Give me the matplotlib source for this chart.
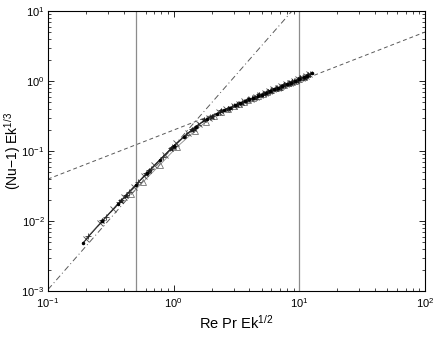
import matplotlib
matplotlib.use("Agg")
import matplotlib.pyplot as plt
import numpy as np

plt.rcParams['font.family'] = ['Liberation Sans', 'DejaVu Sans']
plt.rcParams['mathtext.fontset'] = 'custom'
plt.rcParams['mathtext.rm'] = 'Liberation Sans'
plt.rcParams['mathtext.it'] = 'Liberation Sans:italic'

# ---- data ----
s1_x = [0.19, 0.27, 0.36, 0.50, 0.61, 0.78, 1.0, 1.2, 1.5, 1.85, 2.2, 2.5, 2.8, 3.1, 3.4, 3.7, 4.0, 4.3, 4.7, 5.0, 5.4, 5.8, 6.3, 6.8, 7.3, 8.0, 8.6, 9.2, 10.0, 10.8, 11.6, 12.5]
s1_y = [0.0049, 0.0099, 0.0174, 0.0328, 0.0480, 0.0758, 0.118, 0.160, 0.224, 0.291, 0.344, 0.381, 0.418, 0.452, 0.485, 0.516, 0.547, 0.578, 0.615, 0.642, 0.680, 0.716, 0.760, 0.805, 0.846, 0.905, 0.955, 1.005, 1.07, 1.13, 1.20, 1.29]

s2_x = [0.20, 0.26, 0.33, 0.40, 0.48, 0.58, 0.70, 0.85, 1.05, 1.3, 1.6, 1.9, 2.3, 2.6, 3.0, 3.3, 3.6, 4.1, 4.5, 4.9, 5.3, 5.7, 6.2, 6.7, 7.2, 7.8, 8.4, 9.0, 9.7, 10.5, 11.3, 12.0]
s2_y = [0.0056, 0.0094, 0.0150, 0.0218, 0.0310, 0.0442, 0.0630, 0.0890, 0.130, 0.182, 0.245, 0.300, 0.362, 0.398, 0.448, 0.478, 0.512, 0.563, 0.602, 0.640, 0.680, 0.714, 0.762, 0.802, 0.850, 0.898, 0.950, 1.00, 1.055, 1.12, 1.19, 1.25]

s3_x = [0.27, 0.38, 0.42, 0.60, 0.64, 0.95, 1.0, 1.4, 1.45, 1.75, 2.0, 2.4, 2.7, 3.2, 3.5, 3.9, 4.4, 4.8, 5.2, 5.6, 6.0, 6.5, 7.0, 7.6, 8.2, 8.8, 9.5, 10.2, 11.0, 11.8]
s3_y = [0.0100, 0.0195, 0.0230, 0.0468, 0.0512, 0.108, 0.115, 0.203, 0.207, 0.274, 0.308, 0.370, 0.396, 0.463, 0.483, 0.538, 0.575, 0.630, 0.650, 0.705, 0.722, 0.782, 0.802, 0.875, 0.900, 0.975, 1.00, 1.09, 1.125, 1.22]

s4_x = [0.46, 0.57, 0.78, 1.07, 1.47, 1.8, 2.1, 2.4, 2.7, 3.0, 3.3, 3.6, 3.9, 4.3, 4.7, 5.1, 5.5, 6.0, 6.5, 7.0, 7.5, 8.1, 8.7, 9.3, 10.0, 10.7]
s4_y = [0.0245, 0.0362, 0.0640, 0.116, 0.193, 0.262, 0.318, 0.362, 0.402, 0.440, 0.474, 0.508, 0.540, 0.582, 0.622, 0.660, 0.698, 0.745, 0.790, 0.833, 0.875, 0.925, 0.975, 1.02, 1.08, 1.135]

s5_x = [0.21, 0.29, 0.37, 0.44, 0.52, 0.66, 0.82, 0.97, 1.25, 1.55, 1.95, 2.35, 2.9, 3.25, 3.8, 4.2, 4.6, 5.1, 5.6, 6.1, 6.6, 7.1, 7.7, 8.3, 9.0, 9.8, 10.6, 11.4, 12.2]
s5_y = [0.0061, 0.0116, 0.0186, 0.0262, 0.0358, 0.0562, 0.0835, 0.113, 0.171, 0.236, 0.310, 0.365, 0.432, 0.470, 0.530, 0.568, 0.610, 0.652, 0.704, 0.742, 0.792, 0.830, 0.886, 0.930, 0.995, 1.05, 1.12, 1.18, 1.27]

# reference scaling lines
steep_coef, steep_exp = 0.118, 2.05     # dash-dot line
shallow_coef, shallow_exp = 0.20, 0.70  # dashed line
vlines_x = [0.5, 10.0]

fig = plt.figure(figsize=(4.36, 3.47), dpi=100)
ax = fig.add_axes([0.110, 0.161, 0.865, 0.807])

xs = np.logspace(-1, 2, 200)
ax.plot(xs, steep_coef * xs ** steep_exp, color='0.35', lw=0.7, ls=(0, (6, 3, 1, 3)))
ax.plot(xs, shallow_coef * xs ** shallow_exp, color='0.35', lw=0.7, ls=(0, (4, 3)))
for xv in vlines_x:
    ax.axvline(xv, color='0.55', lw=0.9)

ax.plot(s4_x, s4_y, color='0.55', lw=0.6, marker='^', ms=5, mfc='none', mec='0.45', mew=0.6)
ax.plot(s2_x, s2_y, color='0.5', lw=0.6, marker='x', ms=4, mec='0.3', mew=0.6)
ax.plot(s5_x, s5_y, color='0.45', lw=0.6, marker='+', ms=4, mec='0.2', mew=0.6)
ax.plot(s3_x, s3_y, color='0.35', lw=0.6, marker='*', ms=4, mfc='0.1', mec='0.1', mew=0.4)
ax.plot(s1_x, s1_y, color='0.1', lw=0.6, marker='.', ms=3, mfc='k', mec='k')

ax.set_xscale('log')
ax.set_yscale('log')
ax.set_xlim(0.1, 100)
ax.set_ylim(1e-3, 10)

ax.tick_params(which='both', direction='in', top=True, right=True, labelsize=8)
ax.tick_params(which='major', length=4, width=0.6)
ax.tick_params(which='minor', length=2, width=0.5)
ax.tick_params(axis='y', which='major', pad=2.5)
for sp in ax.spines.values():
    sp.set_linewidth(0.8)

ax.set_xlabel('Re Pr Ek$^{1/2}$', fontsize=10.5, labelpad=3)
ax.set_ylabel('(Nu\u22121) Ek$^{1/3}$', fontsize=10, va='center')
ax.yaxis.set_label_coords(-0.095, 0.5)

fig.savefig('out.png', dpi=100)
